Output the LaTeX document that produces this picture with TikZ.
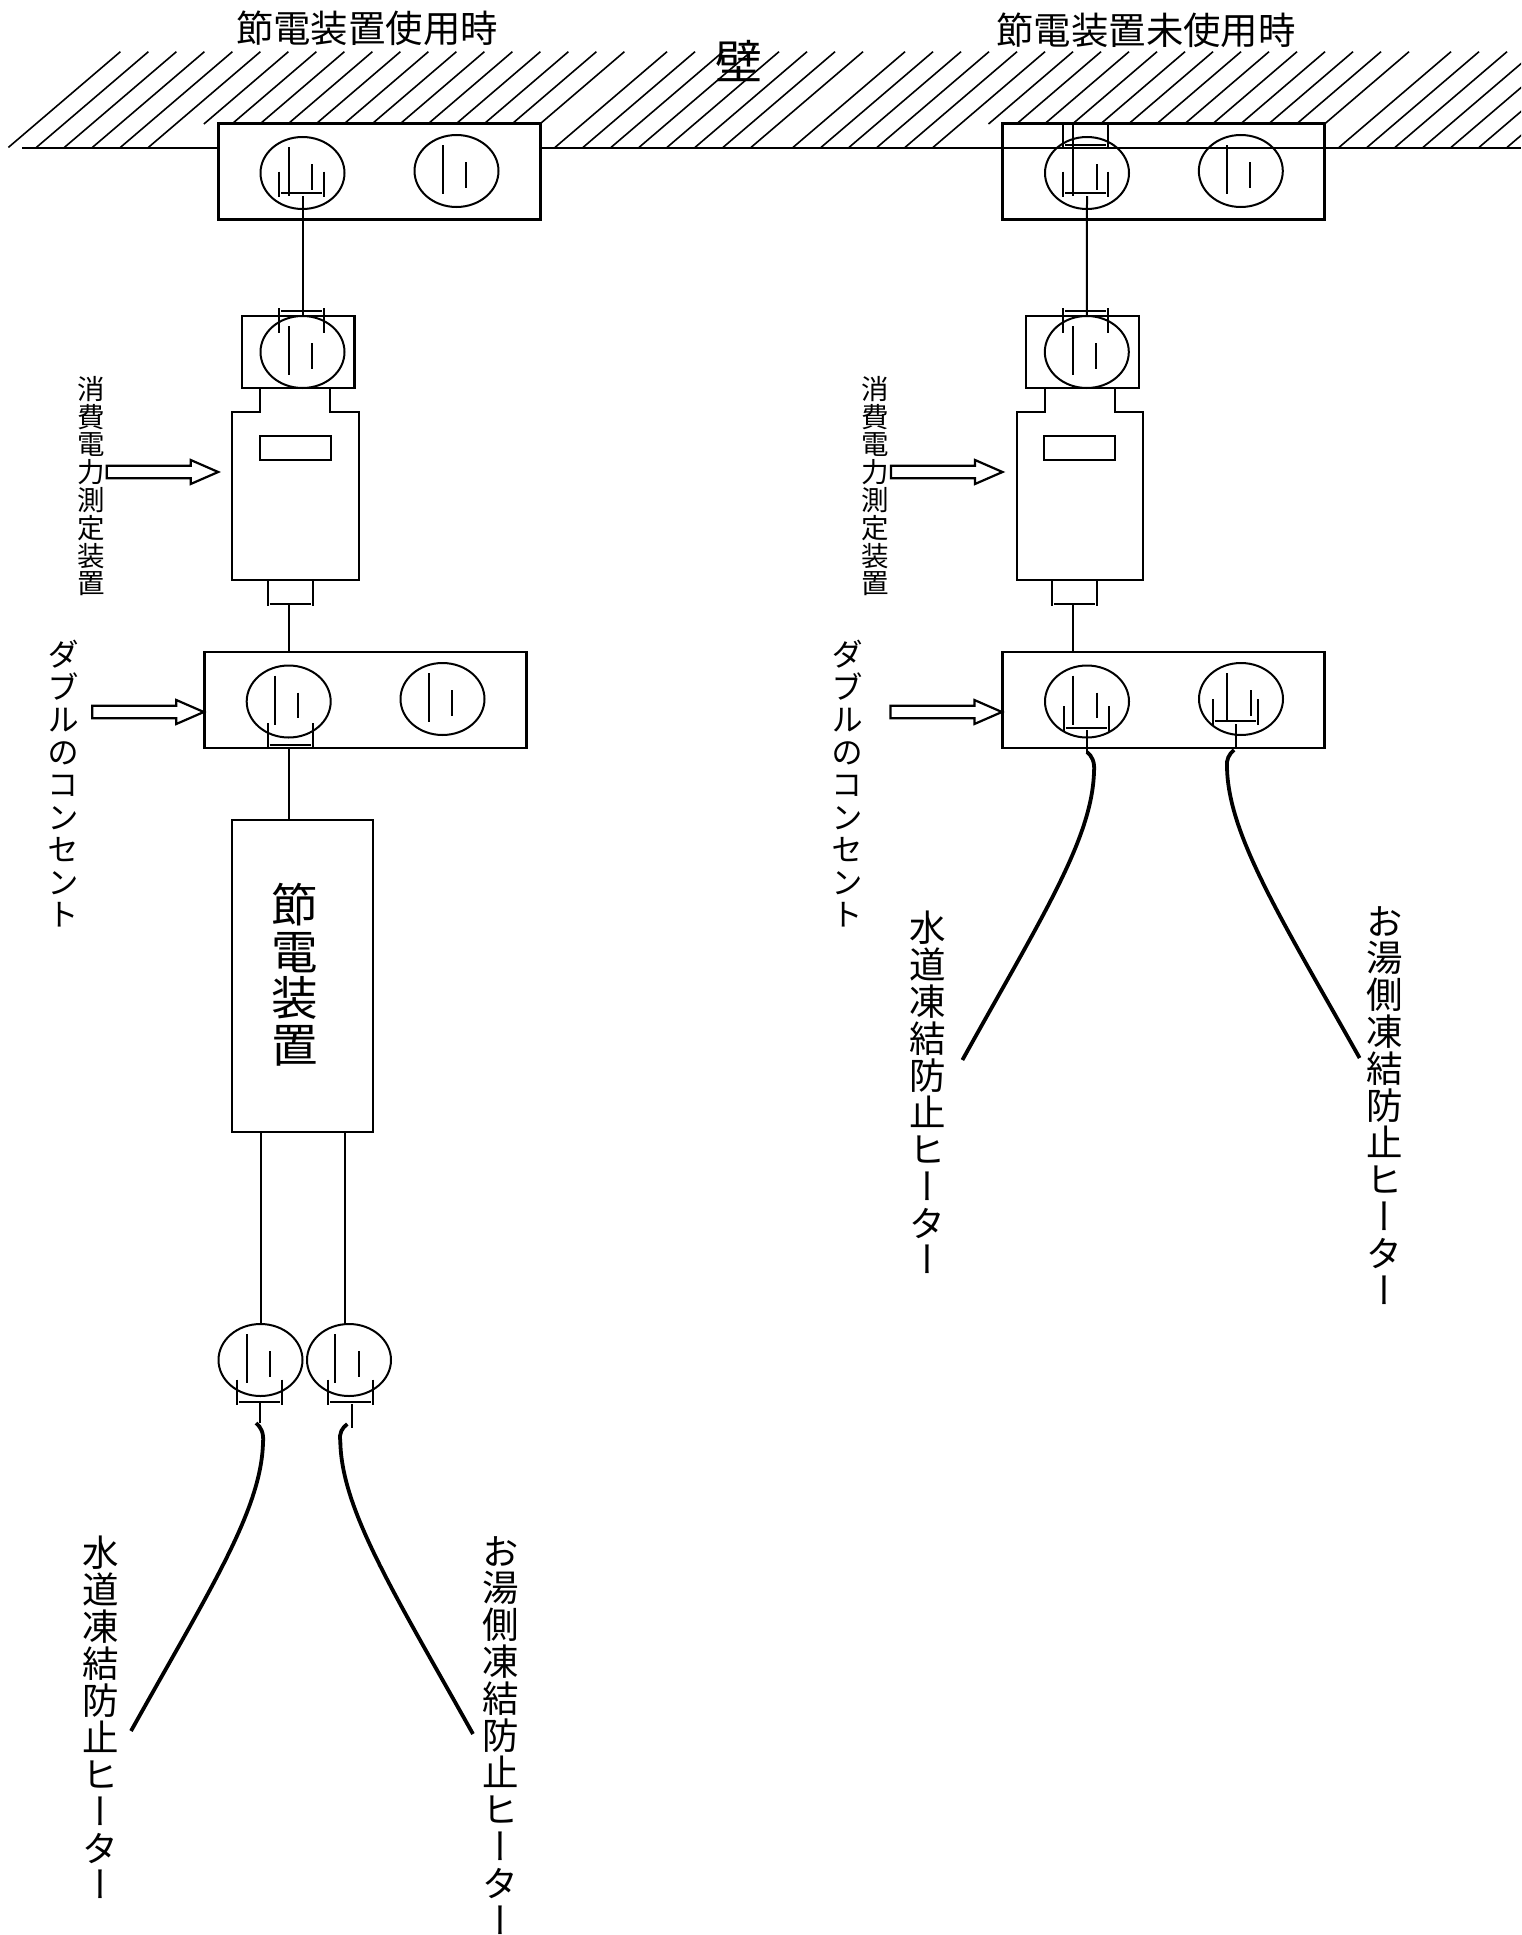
\documentclass[tikz,border=0pt]{standalone}
\usepackage{fontspec}
\setmainfont{Noto Sans CJK JP}
\newfontfamily\tatefont[RawFeature={+vert}]{Noto Sans CJK JP}
\usetikzlibrary{shapes.geometric}

\tikzset{
  hatchline/.style={line width=1.6},
  wallline/.style={line width=2.2},
  outletbox/.style={draw,line width=2.8,inner sep=0,outer sep=0,minimum width=322,minimum height=96},
  socket/.style={draw,ellipse,line width=2,inner sep=0,outer sep=0,minimum width=84,minimum height=72},
  pinline/.style={line width=2},
  wireline/.style={line width=2},
  cableline/.style={line width=3.8},
  bodyline/.style={line width=2.2},
  tatetext/.style 2 args={align=center,inner sep=0,anchor=north,font=\tatefont\fontsize{#1}{#2}\selectfont},
  yokotext/.style={inner sep=0,font=\fontsize{#1}{#1}\selectfont},
}

% socket: name, centre x, centre y
\newcommand{\socketat}[3]{
  \node[socket] (#1) at (#2,#3) {};
  \draw[pinline] (#2-14,#3-26) -- (#2-14,#3+23);
  \draw[pinline] (#2+9.5,#3-9) -- (#2+9.5,#3+16.5);
}
% plug blade: centre x, from y, to y, bar y
\newcommand{\plugbars}[4]{
  \draw[pinline] (#1-22.5,#2) -- (#1-22.5,#3);
  \draw[pinline] (#1+22.5,#2) -- (#1+22.5,#3);
  \draw[pinline] (#1-20.5,#4) -- (#1+20.5,#4);
}
% hollow arrow: tail x, middle y
\newcommand{\hollowarrow}[2]{
  \draw[bodyline] (#1,#2-6.3) -- (#1+84,#2-6.3) -- (#1+84,#2-12) -- (#1+111.5,#2)
    -- (#1+84,#2+12) -- (#1+84,#2+6.3) -- (#1,#2+6.3) -- cycle;
}
% meter with its label: prefix, shift
\newcommand{\wattmeter}[2]{
  \begin{scope}[xshift=#2]
    \node[draw,bodyline,inner sep=0,outer sep=0,minimum width=112.5,minimum height=72] (#1top) at (298.3,352) {};
    \socketat{#1in}{302.5}{352}
    \plugbars{301.5}{308}{333}{310.5}
    % body
    \draw[bodyline] (260.3,388) -- (260.3,412) -- (232.3,412) -- (232.3,580)
      -- (359,580) -- (359,412) -- (330.3,412) -- (330.3,388);
    \node[draw,bodyline,inner sep=0,outer sep=0,minimum width=71,minimum height=24] (#1disp) at (295.5,448) {};
    \plugbars{290}{580}{606}{603.5}
    \coordinate (#1out) at (288.5,604);
    \hollowarrow{106.7}{472}
    \node[tatetext={27.5}{27.8}] (#1label) at (90.8,376) {消\\費\\電\\力\\測\\定\\装\\置};
  \end{scope}
}

\begin{document}
\begin{tikzpicture}[x=1pt,y=-1pt,line cap=butt,line join=miter]
\useasboundingbox (0,0) rectangle (1521,1935);
% wall hatching
\begin{scope}
  \clip (0,0) rectangle (1521,1935);
  \foreach \t in {120.4,148.4,...,260.4,667,695,...,863,905,933,...,1045,1451,1479,...,1619}
    \draw[hatchline] (\t,51.7) -- ++(-112,95.7);
  \foreach \t in {288.4,316.4,...,624.4,1073,1101,...,1409}
    \draw[hatchline] (\t,51.7) -- ++(-84.5,72.3);
\end{scope}
% wall face
\draw[wallline] (22,148) -- (218,148);
\draw[wallline] (540,148) -- (1521,148);

% titles
\node[yokotext=37.4] (titleon) at (367,28.5) {節電装置使用時};
\node[yokotext=37.4] (titleoff) at (1146,30) {節電装置未使用時};
\node[yokotext=47] (wallname) at (738.5,61) {壁};

% wall outlets
\node[outletbox] (wallon) at (379.5,171.5) {};
\socketat{wallona}{302.5}{173}
\socketat{wallonb}{456.5}{171}
\plugbars{301.5}{171.7}{196.7}{193.3}
\coordinate (wallonstem) at (302.5,196);
\node[outletbox] (walloff) at (1163.5,171.5) {};
\socketat{walloffa}{1087}{173}
\socketat{walloffb}{1240.8}{171}
\plugbars{1085.5}{171.7}{196.7}{193.3}
\plugbars{1085.5}{123.5}{148}{145}
\draw[pinline] (1073,123.5) -- (1073,150);
\coordinate (walloffstem) at (1087,196);

% meters
\wattmeter{on}{0pt}
\wattmeter{off}{784.3pt}
\draw[wireline] (wallonstem) -- (onin.north);
\draw[wireline] (walloffstem) -- (offin.north);

% double outlets
\node[outletbox] (dblon) at (365.5,700) {};
\socketat{dblona}{288.7}{701.5}
\socketat{dblonb}{442.5}{699}
\plugbars{290}{723}{747}{745.3}
\draw[wireline] (onout) -- (onout |- dblon.north);
\hollowarrow{92.3}{712}
\node[tatetext={31.7}{32.5}] (dblonlabel) at (63.3,640) {ダ\\ブ\\ル\\の\\コ\\ン\\セ\\ン\\ト};

\node[outletbox] (dbloff) at (1163.5,700) {};
\socketat{dbloffa}{1087}{701.5}
\socketat{dbloffb}{1241}{699}
\plugbars{1086}{706}{732}{728.3}
\plugbars{1235.2}{699}{725}{721.3}
\draw[wireline] (offout) -- (offout |- dbloff.north);
\draw[pinline] (1087,730) -- (1087,753);
\draw[pinline] (1236.4,724) -- (1236.4,747.3);
\hollowarrow{890.4}{712}
\node[tatetext={31.7}{32.5}] (dblofflabel) at (847.5,640) {ダ\\ブ\\ル\\の\\コ\\ン\\セ\\ン\\ト};

% saver unit
\node[draw,bodyline,inner sep=0,outer sep=0,minimum width=140.4,minimum height=312.3] (saver) at (302.5,976.2) {};
\node[tatetext={46.5}{46.5}] (savername) at (295,883) {節\\電\\装\\置};
\draw[wireline] (288.5,748) -- (288.5,820);

% plugs below the saver
\socketat{plugw}{260.5}{1360}
\socketat{plugh}{349}{1360}
\draw[wireline] (260.5,1132) -- (plugw.north);
\draw[wireline] (344.7,1132) -- (344.7,1324);
\plugbars{259.3}{1379.7}{1404.7}{1402.3}
\plugbars{350.6}{1379.7}{1404.7}{1402.3}
\draw[pinline] (260,1403) -- (260,1423);
\draw[pinline] (351.7,1404) -- (351.7,1428);

% heater cables
\coordinate (cwona) at (256,1423);
\coordinate (cwonb) at (131,1731);
\coordinate (chona) at (347.3,1424);
\coordinate (chonb) at (473,1734);
\draw[cableline] (cwona) .. controls (261,1427) and (264,1433) .. (263,1443)
  .. controls (261,1511) and (209,1591) .. (cwonb);
\draw[cableline] (chona) .. controls (342,1428) and (339,1433) .. (340.3,1441)
  .. controls (341.3,1510) and (395.3,1595) .. (chonb);
\coordinate (cwoffa) at (1087,752);
\coordinate (cwoffb) at (962.4,1060);
\coordinate (choffa) at (1234,750);
\coordinate (choffb) at (1359.6,1058);
\draw[cableline] (cwoffa) .. controls (1092,756) and (1095,762) .. (1094,772)
  .. controls (1092,840) and (1040,920) .. (cwoffb);
\draw[cableline] (choffa) .. controls (1229,754) and (1226,760) .. (1227,767)
  .. controls (1228,835) and (1282,920) .. (choffb);

% heater labels
\node[tatetext={36.5}{36.9}] (waterona) at (100.5,1536) {水\\道\\凍\\結\\防\\止\\ヒ\\ー\\タ\\ー};
\node[tatetext={36.5}{36.9}] (hoton) at (500.7,1536) {お\\湯\\側\\凍\\結\\防\\止\\ヒ\\ー\\タ\\ー};
\node[tatetext={36.5}{36.9}] (wateroff) at (927.5,911) {水\\道\\凍\\結\\防\\止\\ヒ\\ー\\タ\\ー};
\node[tatetext={36.5}{36.9}] (hotoff) at (1385,906) {お\\湯\\側\\凍\\結\\防\\止\\ヒ\\ー\\タ\\ー};
\end{tikzpicture}
\end{document}
